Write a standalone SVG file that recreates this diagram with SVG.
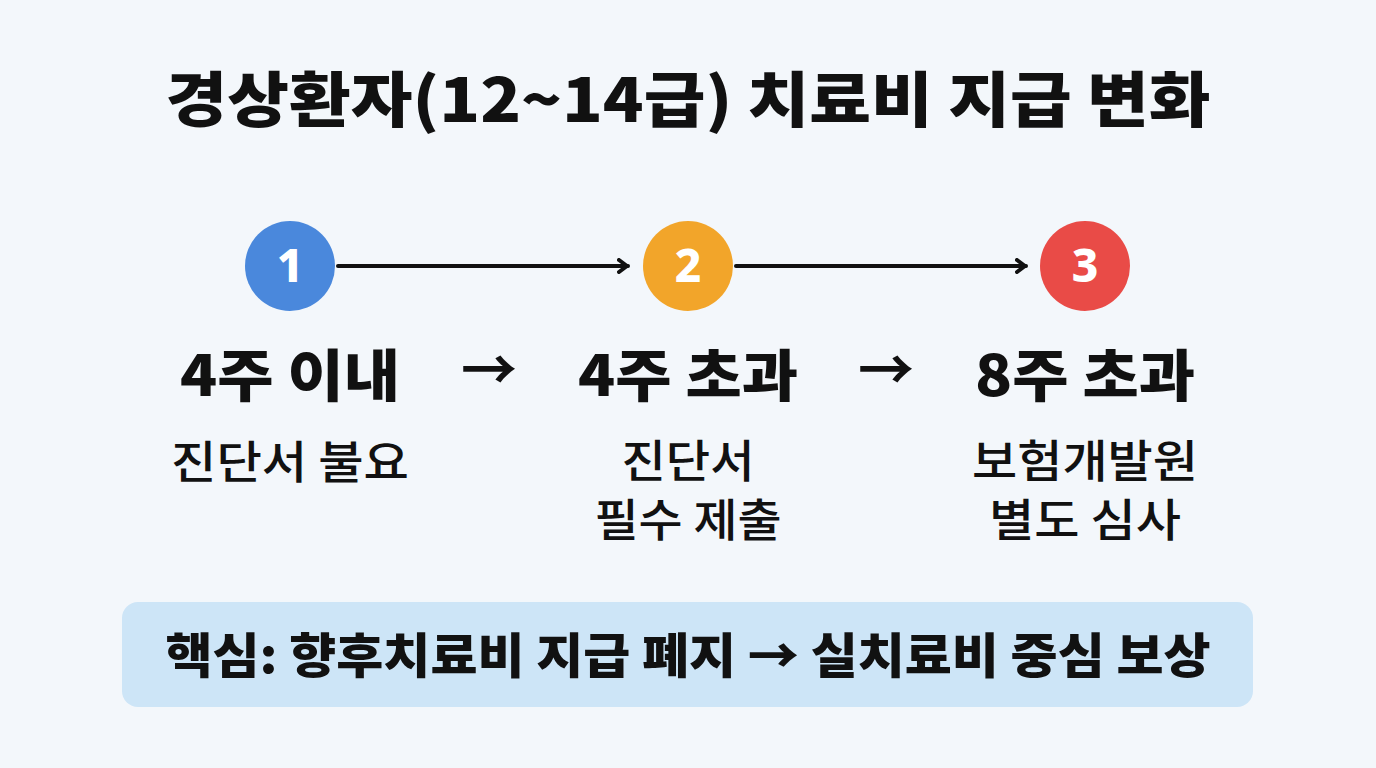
<svg xmlns="http://www.w3.org/2000/svg" width="1376" height="768" viewBox="0 0 1376 768">
<defs>
<style>
.t{font-family:"Noto Sans CJK KR","Noto Sans",sans-serif;fill:#111;text-anchor:middle}
.title{font-size:60px;font-weight:900}
.head{font-size:56px;font-weight:900}
.sub{font-size:45px;font-weight:500}
.key{font-size:48px;font-weight:900}
.arr{font-size:56px;font-weight:700}
.num{font-family:"Noto Sans","Liberation Sans",sans-serif;font-size:46px;font-weight:800;fill:#fff;text-anchor:middle}
.conn{stroke:#111;stroke-width:4;fill:none;stroke-linecap:round}
</style>
<marker id="ah" viewBox="0 0 12 16" refX="11" refY="8" markerWidth="12" markerHeight="16" markerUnits="userSpaceOnUse" orient="auto">
<path d="M2 2 L10 8 L2 14" fill="none" stroke="#111" stroke-width="4" stroke-linecap="round" stroke-linejoin="round"/>
</marker>
</defs>
<rect width="1376" height="768" fill="#f3f7fb"/>
<text class="t title" x="688" y="122" textLength="1045" lengthAdjust="spacingAndGlyphs">경상환자(12~14급) 치료비 지급 변화</text>
<g id="connectors">
<line class="conn" x1="338" y1="266" x2="628" y2="266" marker-end="url(#ah)"/>
<line class="conn" x1="736" y1="266" x2="1026" y2="266" marker-end="url(#ah)"/>
</g>
<g id="step1">
<circle cx="290" cy="266" r="45" fill="#4a88dc"/>
<text class="num" x="290" y="282">1</text>
<text class="t head" x="290" y="396" textLength="220" lengthAdjust="spacingAndGlyphs">4주 이내</text>
<text class="t sub" x="290" y="479" textLength="238" lengthAdjust="spacingAndGlyphs">진단서 불요</text>
</g>
<g id="step2">
<circle cx="688" cy="266" r="45" fill="#f2a52a"/>
<text class="num" x="688" y="282">2</text>
<text class="t head" x="688" y="396" textLength="220" lengthAdjust="spacingAndGlyphs">4주 초과</text>
<text class="t sub" x="688" y="478" textLength="133" lengthAdjust="spacingAndGlyphs">진단서</text>
<text class="t sub" x="688" y="537" textLength="187" lengthAdjust="spacingAndGlyphs">필수 제출</text>
</g>
<g id="step3">
<circle cx="1085" cy="266" r="45" fill="#e94b47"/>
<text class="num" x="1085" y="282">3</text>
<text class="t head" x="1085" y="396" textLength="220" lengthAdjust="spacingAndGlyphs">8주 초과</text>
<text class="t sub" x="1085" y="478" textLength="226" lengthAdjust="spacingAndGlyphs">보험개발원</text>
<text class="t sub" x="1085" y="537" textLength="192" lengthAdjust="spacingAndGlyphs">별도 심사</text>
</g>
<g id="arrows-text">
<text class="t arr" x="489" y="390">→</text>
<text class="t arr" x="886" y="390">→</text>
</g>
<g id="summary">
<rect x="122" y="602" width="1131" height="105" rx="16" fill="#cde5f7"/>
<text class="t key" x="688" y="673" textLength="1045" lengthAdjust="spacingAndGlyphs">핵심: 향후치료비 지급 폐지 → 실치료비 중심 보상</text>
</g>
</svg>
